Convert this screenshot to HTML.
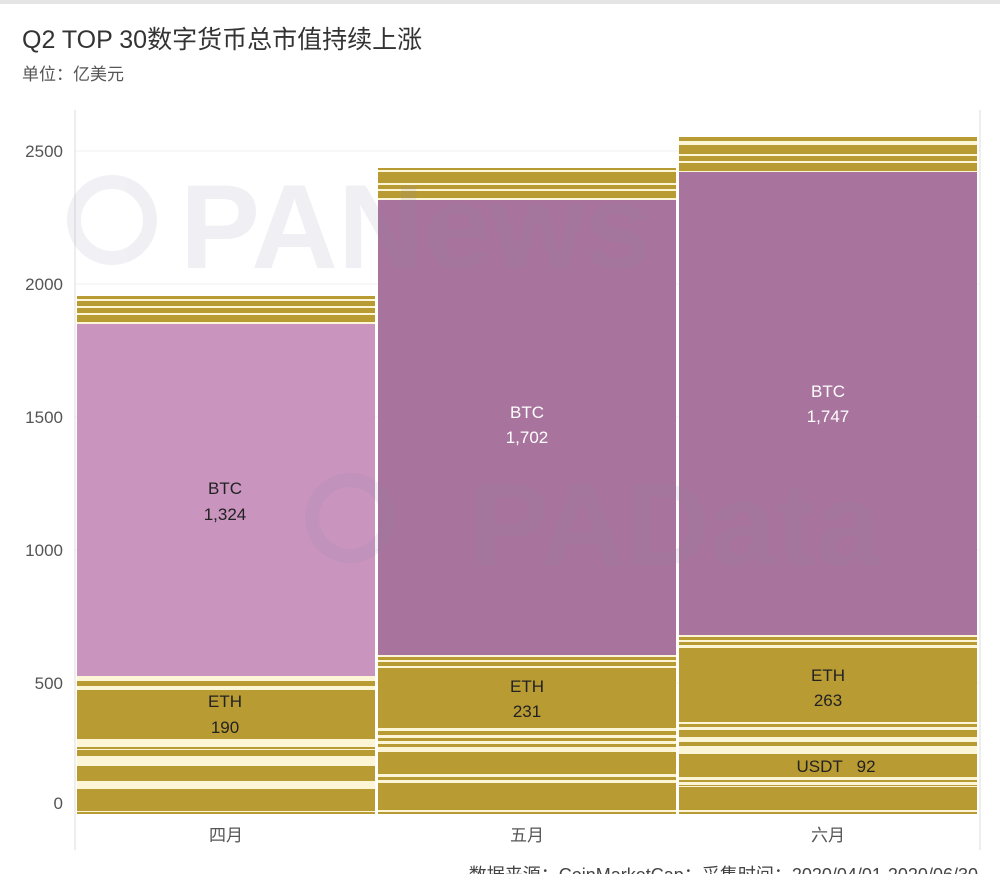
<!DOCTYPE html>
<html><head><meta charset="utf-8"><style>
body{margin:0;width:1000px;height:874px;background:#fff;overflow:hidden;font-family:"Liberation Sans","Noto Sans CJK SC",sans-serif;}
</style></head><body>
<svg width="1000" height="874" xmlns="http://www.w3.org/2000/svg" style="font-family:'Liberation Sans','Noto Sans CJK SC',sans-serif">
<rect x="0" y="0" width="1000" height="4" fill="#e4e4e4"/>
<text x="22" y="48" font-size="25" fill="#333">Q2 TOP 30数字货币总市值持续上涨</text>
<text x="22" y="80" font-size="17" fill="#555">单位：亿美元</text>
<g stroke="#f0f0f0" stroke-width="1">
<line x1="75" y1="151" x2="980" y2="151"/><line x1="75" y1="284" x2="980" y2="284"/>
<line x1="75" y1="417" x2="980" y2="417"/><line x1="75" y1="550" x2="980" y2="550"/>
<line x1="75" y1="683" x2="980" y2="683"/>
</g>
<line x1="75" y1="110" x2="75" y2="850" stroke="#ddd"/>
<line x1="980" y1="110" x2="980" y2="850" stroke="#ddd"/>
<g font-size="17" fill="#555" text-anchor="end">
<text x="63" y="157">2500</text><text x="63" y="290">2000</text><text x="63" y="423">1500</text>
<text x="63" y="556">1000</text><text x="63" y="689">500</text><text x="63" y="809">0</text>
</g>
<rect x="77" y="296" width="298" height="518" fill="#fdf6d6"/>
<rect x="378" y="168" width="298" height="646" fill="#fdf6d6"/>
<rect x="679" y="137" width="298" height="677" fill="#fdf6d6"/>
<g fill="#b99b33">
<rect x="77" y="296" width="298" height="3"/><rect x="77" y="301" width="298" height="5"/>
<rect x="77" y="308" width="298" height="5"/><rect x="77" y="315" width="298" height="7"/>
<rect x="77" y="681" width="298" height="5"/><rect x="77" y="690" width="298" height="49"/>
<rect x="77" y="747" width="298" height="2"/><rect x="77" y="750" width="298" height="2"/>
<rect x="77" y="752" width="298" height="4"/><rect x="77" y="766" width="298" height="15"/>
<rect x="77" y="789" width="298" height="22"/><rect x="77" y="812" width="298" height="2"/>
</g>
<rect x="77" y="324" width="298" height="352" fill="#c994bd"/>
<g fill="#b99b33">
<rect x="378" y="168" width="298" height="2"/><rect x="378" y="172" width="298" height="11"/>
<rect x="378" y="185" width="298" height="4"/><rect x="378" y="191" width="298" height="7"/>
<rect x="378" y="657" width="298" height="3"/><rect x="378" y="662" width="298" height="4"/>
<rect x="378" y="668" width="298" height="60"/><rect x="378" y="731" width="298" height="4"/>
<rect x="378" y="738" width="298" height="3"/><rect x="378" y="744" width="298" height="3"/>
<rect x="378" y="752" width="298" height="22"/><rect x="378" y="777" width="298" height="3"/>
<rect x="378" y="783" width="298" height="27"/><rect x="378" y="812" width="298" height="2"/>
</g>
<rect x="378" y="200" width="298" height="455" fill="#a8739c"/>
<g fill="#b99b33">
<rect x="679" y="137" width="298" height="4"/><rect x="679" y="145" width="298" height="9"/>
<rect x="679" y="156" width="298" height="5"/><rect x="679" y="163" width="298" height="8"/>
<rect x="679" y="637" width="298" height="3"/><rect x="679" y="642" width="298" height="3"/>
<rect x="679" y="648" width="298" height="74"/><rect x="679" y="724" width="298" height="3"/>
<rect x="679" y="730" width="298" height="7"/><rect x="679" y="742" width="298" height="4"/>
<rect x="679" y="754" width="298" height="23"/><rect x="679" y="780" width="298" height="2"/>
<rect x="679" y="785" width="298" height="1"/><rect x="679" y="787" width="298" height="23"/>
<rect x="679" y="812" width="298" height="2"/>
</g>
<rect x="679" y="172" width="298" height="463" fill="#a8739c"/>
<g fill="#8a8ab0" opacity="0.13" font-weight="bold">
<text x="180" y="268" font-size="120">PANews</text>
<text x="470" y="565" font-size="118">PAData</text>
<circle cx="112" cy="220" r="38" fill="none" stroke="#8a8ab0" stroke-width="14"/>
<circle cx="350" cy="518" r="38" fill="none" stroke="#8a8ab0" stroke-width="14"/>
</g>
<g font-size="17" text-anchor="middle">
<text x="225" y="494" fill="#222">BTC</text><text x="225" y="520" fill="#222">1,324</text>
<text x="225" y="707" fill="#222">ETH</text><text x="225" y="733" fill="#222">190</text>
<text x="527" y="418" fill="#fff">BTC</text><text x="527" y="443" fill="#fff">1,702</text>
<text x="527" y="692" fill="#222">ETH</text><text x="527" y="717" fill="#222">231</text>
<text x="828" y="397" fill="#fff">BTC</text><text x="828" y="422" fill="#fff">1,747</text>
<text x="828" y="681" fill="#222">ETH</text><text x="828" y="706" fill="#222">263</text>
<text x="836" y="772" fill="#222" xml:space="preserve">USDT   92</text>
<text x="226" y="841" fill="#555">四月</text>
<text x="527" y="841" fill="#555">五月</text>
<text x="828" y="841" fill="#555">六月</text>
</g>
<text x="978" y="881" font-size="18" fill="#444" text-anchor="end">数据来源：CoinMarketCap；采集时间：2020/04/01-2020/06/30</text>
</svg>
</body></html>
